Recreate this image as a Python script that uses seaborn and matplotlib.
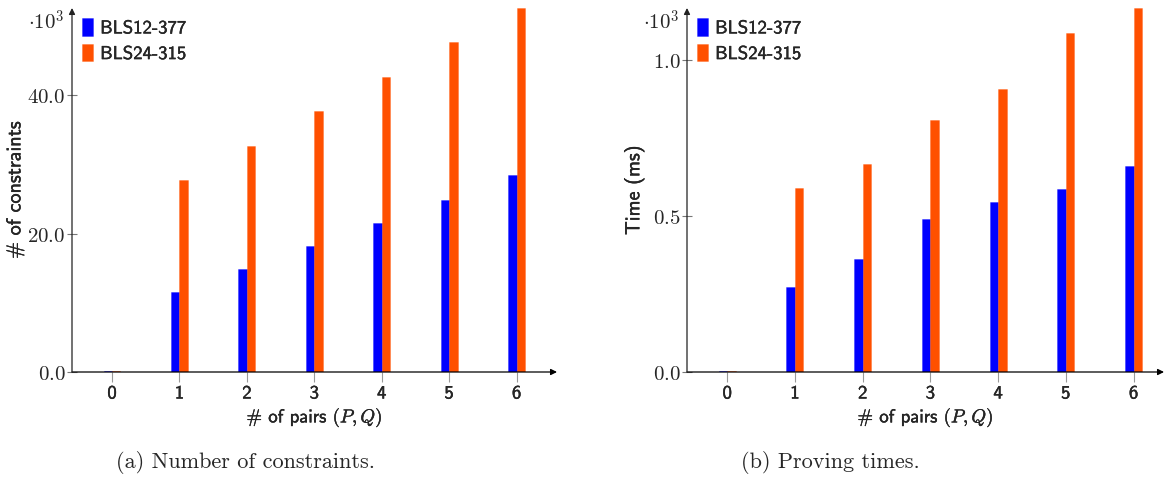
import matplotlib
matplotlib.use("Agg")
import matplotlib.pyplot as plt
import matplotlib.patheffects as pe
import pandas as pd
import seaborn as sns
from matplotlib.ticker import FuncFormatter

# data
pairs = [0, 1, 2, 3, 4, 5, 6]
curves = ["BLS12-377", "BLS24-315"]
constraints_bls12 = [0.2, 11.6, 14.9, 18.2, 21.6, 24.9, 28.4]   # x10^3
constraints_bls24 = [0.2, 27.7, 32.6, 37.7, 42.6, 47.7, 52.6]
times_bls12 = [0.004, 0.271, 0.362, 0.489, 0.546, 0.587, 0.662]   # x10^3 ms
times_bls24 = [0.004, 0.591, 0.666, 0.808, 0.906, 1.088, 1.167]

colors = {"BLS12-377": "#0000ff", "BLS24-315": "#ff5000"}

sns.set_style("white")
plt.rcParams["mathtext.fontset"] = "cm"
plt.rcParams["axes.unicode_minus"] = False

# slight stroke so the sans text looks as dark as the LaTeX rendering
thick = [pe.withStroke(linewidth=0.25, foreground="black")]

df1 = pd.DataFrame({
    "pairs": pairs * 2,
    "curve": [curves[0]] * 7 + [curves[1]] * 7,
    "value": constraints_bls12 + constraints_bls24,
})
df2 = pd.DataFrame({
    "pairs": pairs * 2,
    "curve": [curves[0]] * 7 + [curves[1]] * 7,
    "value": times_bls12 + times_bls24,
})

fig = plt.figure(figsize=(11.73, 4.79), dpi=100)
W, H = 1173, 479
ax1 = fig.add_axes([72 / W, (479 - 372) / H, (557 - 72) / W, (372 - 8) / H])
ax2 = fig.add_axes([687 / W, (479 - 372) / H, (1164 - 687) / W, (372 - 8) / H])


def draw(ax, df, ymax, ticks, ylabel, ypad, xmax):
    sns.barplot(data=df, x="pairs", y="value", hue="curve", palette=colors,
                width=0.25, errorbar=None, ax=ax, saturation=1,
                linewidth=0.6, edgecolor=None)
    for p in ax.patches:
        fc = p.get_facecolor()
        p.set_edgecolor((fc[0], fc[1], fc[2], 0.35))
    ax.set_xlim(-0.594, xmax)
    ax.set_ylim(0, ymax)
    for s in ax.spines.values():
        s.set_visible(False)
    ax.annotate("", xy=(1, 0), xytext=(0, 0), xycoords="axes fraction",
                arrowprops=dict(arrowstyle="-|>", color="black", lw=0.9,
                                shrinkA=0, shrinkB=0, mutation_scale=9))
    ax.annotate("", xy=(0, 1.0), xytext=(0, 0), xycoords="axes fraction",
                arrowprops=dict(arrowstyle="-|>", color="#222222", lw=0.9,
                                shrinkA=0, shrinkB=0, mutation_scale=9))
    ax.set_yticks(ticks)
    ax.yaxis.set_major_formatter(FuncFormatter(lambda v, pos: "$%.1f$" % v))
    ax.tick_params(axis="y", direction="inout", length=7.5, width=0.8,
                   color="#777777", labelsize=15, pad=1, left=True)
    ax.tick_params(axis="x", direction="out", length=7, width=0.8,
                   color="#999999", labelsize=13.5, pad=2, bottom=True)
    for t in ax.get_xticklabels():
        t.set_family("cmss10")
        t.set_path_effects(thick)
    ax.set_xlabel(r"# of pairs $(P, Q)$", family="cmss10", fontsize=13.5,
                  labelpad=2, path_effects=thick)
    ax.set_ylabel(ylabel, family="cmss10", fontsize=14.5, labelpad=ypad,
                  path_effects=thick)
    ax.annotate(r"$\cdot 10^3$", xy=(0, 1), xycoords="axes fraction",
                xytext=(-8, -14), textcoords="offset pixels",
                ha="right", va="center", fontsize=15)
    leg = ax.legend(loc="upper left", bbox_to_anchor=(0.0, 1.0), frameon=False,
                    handlelength=0.55, handleheight=1.05, handletextpad=0.4,
                    labelspacing=0.35, borderaxespad=0.3, borderpad=0.25,
                    prop={"family": "cmss10", "size": 13.5}, title=None)
    for t in leg.get_texts():
        t.set_path_effects(thick)


draw(ax1, df1, 52.6, [0, 20, 40], "# of constraints", 2, 6.6)
draw(ax2, df2, 1.167, [0, 0.5, 1.0], "Time (ms)", 6, 6.45)

fig.text(245 / W, 1 - 462 / H, "(a) Number of constraints.", family="cmr10",
         fontsize=16, ha="center", va="center")
fig.text(830 / W, 1 - 462 / H, "(b) Proving times.", family="cmr10",
         fontsize=16, ha="center", va="center")

fig.savefig("out.png", dpi=100)
